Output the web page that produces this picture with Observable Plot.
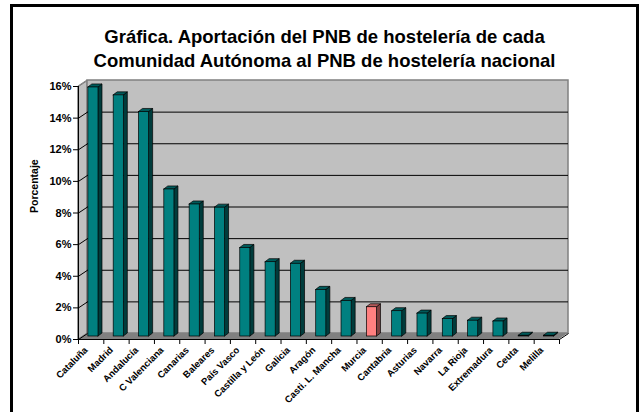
<!DOCTYPE html>
<html>
<head>
<meta charset="utf-8">
<script src="https://cdn.jsdelivr.net/npm/d3@7"></script>
<script src="https://cdn.jsdelivr.net/npm/@observablehq/plot@0.6"></script>
<style>
  html, body { margin: 0; padding: 0; background: #fff; }
  body { position: relative; width: 642px; height: 412px; overflow: hidden; font-family: "Liberation Sans", Arial, sans-serif; }
  #frame { position: absolute; left: 10px; top: 4px; width: 623px; height: 430px; border: 3px solid #000; box-sizing: content-box; }
  #title { position: absolute; left: 10px; top: 25px; width: 629px; text-align: center; font-weight: bold; font-size: 18.5px; line-height: 24px; color: #000; }
  #chart { position: absolute; left: 0; top: 0; }
</style>
</head>
<body>
<div id="frame"></div>
<div id="title">Gráfica. Aportación del PNB de hostelería de cada<br>Comunidad Autónoma al PNB de hostelería nacional</div>
<div id="chart"></div>
<script>
const categories = ["Cataluña","Madrid","Andalucía","C Valenciana","Canarias","Baleares","País Vasco","Castilla y León","Galicia","Aragón","Casti. L. Mancha","Murcia","Cantabria","Asturias","Navarra","La Rioja","Extremadura","Ceuta","Melilla"];
const values = [15.75,15.25,14.2,9.3,8.35,8.15,5.6,4.7,4.6,2.95,2.25,1.85,1.6,1.45,1.1,1.0,0.95,0.05,0.05];
const highlighted = ["Murcia"];
const yTicks = [0,2,4,6,8,10,12,14,16];
const yLabel = "Porcentaje";

// geometry helpers (pixel -> data units)
const W = 642, H = 412, mL = 78, mR = 83, mT = 86, mB = 73;
const n = categories.length;
const pxX = (W - mL - mR) / n;
const pxY = (H - mT - mB) / 16;
const DX = 9 / pxX, DY = 6 / pxY;        // wall depth
const B = 3 / pxY;                        // bar base (mid depth)
const BX0 = 0.39, BX1 = 0.79;             // bar front face within category
const bdx = 4 / pxX, bdy = 3 / pxY;       // bar depth

const bars = categories.map((c, i) => {
  const hi = highlighted.includes(c);
  return {
    cat: c, v: values[i], x1: i + BX0, x2: i + BX1,
    front: hi ? "#FF8080" : "#008080",
    side: hi ? "#7F4040" : "#003C3C",
    top: hi ? "#B35A5A" : "#005A5A"
  };
});
const sidePts = bars.flatMap(b => [
  {cat: b.cat, x: b.x2, y1: B, y2: b.v + B, fill: b.side},
  {cat: b.cat, x: b.x2 + bdx, y1: B + bdy, y2: b.v + B + bdy, fill: b.side}
]);
const topPts = bars.flatMap(b => [
  {cat: b.cat, y: b.v + B, x1: b.x1, x2: b.x2, fill: b.top},
  {cat: b.cat, y: b.v + B + bdy, x1: b.x1 + bdx, x2: b.x2 + bdx, fill: b.top}
]);

const floorPts = [{y: 0, x1: 0, x2: n}, {y: DY, x1: DX, x2: n + DX}];
const leftWallPts = [{x: 0, y1: 0, y2: 16}, {x: DX, y1: DY, y2: 16 + DY}];

const plot = Plot.plot({
  width: W, height: H,
  marginLeft: mL, marginRight: mR, marginTop: mT, marginBottom: mB,
  x: {type: "linear", domain: [0, n]},
  y: {type: "linear", domain: [0, 16]},
  color: {type: "identity"},
  style: {fontFamily: "'Liberation Sans', Arial, sans-serif", fontWeight: "bold", background: "transparent", overflow: "visible"},
  marks: [
    Plot.areaX(floorPts, {y: "y", x1: "x1", x2: "x2", fill: "#808080"}),
    Plot.areaY(leftWallPts, {x: "x", y1: "y1", y2: "y2", fill: "#C0C0C0", stroke: "#808080", strokeWidth: 1}),
    Plot.rect([0], {x1: DX, x2: n + DX, y1: DY, y2: 16 + DY, fill: "#C0C0C0", stroke: "#808080", strokeWidth: 1.5}),
    Plot.ruleY(yTicks.filter(t => t > 0 && t < 16), {y: d => d + DY, x1: DX, x2: n + DX, stroke: "#000", strokeWidth: 1}),
    Plot.link(yTicks, {x1: 0, y1: d => d, x2: DX, y2: d => d + DY, stroke: d => (d === 16 ? "#808080" : "#000"), strokeWidth: 1}),
    Plot.link([0], {x1: n, y1: 0, x2: n + DX, y2: DY, stroke: "#000", strokeWidth: 1}),
    Plot.ruleY([0], {x1: 0, x2: n, stroke: "#000", strokeWidth: 1}),
    Plot.areaY(sidePts, {x: "x", y1: "y1", y2: "y2", z: "cat", fill: "fill", stroke: "#000", strokeWidth: 0.7}),
    Plot.areaX(topPts, {y: "y", x1: "x1", x2: "x2", z: "cat", fill: "fill", stroke: "#000", strokeWidth: 0.7}),
    Plot.rect(bars, {x1: "x1", x2: "x2", y1: B, y2: d => d.v + B, fill: "front", stroke: "#000", strokeWidth: 0.7}),
    Plot.ruleX([0], {y1: 0, y2: 16, stroke: "#000", strokeWidth: 1}),
    Plot.axisY(yTicks, {anchor: "left", tickSize: 5, tickPadding: 2, tickFormat: d => d + "%", fontSize: 11, label: null}),
    Plot.text([yLabel], {frameAnchor: "left", dx: -44, rotate: -90, fontSize: 10.5, text: d => d}),
    Plot.axisX(d3.range(n + 1), {tickSize: 5, tickFormat: () => "", label: null}),
    Plot.axisX(d3.range(n).map(i => i + 0.5), {tickSize: 0, tickPadding: 9, tickRotate: -45, dx: -5, fontSize: 9.5, tickFormat: d => categories[Math.floor(d)], label: null})
  ]
});
document.getElementById("chart").appendChild(plot);
</script>
</body>
</html>
